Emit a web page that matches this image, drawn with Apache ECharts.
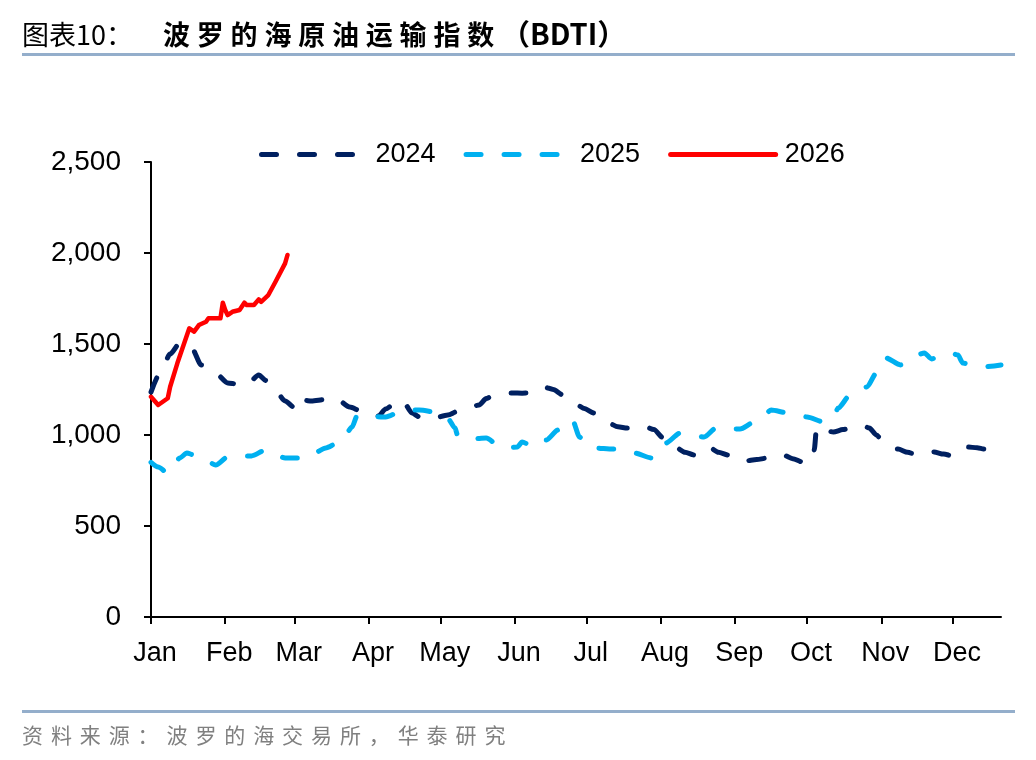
<!DOCTYPE html>
<html>
<head>
<meta charset="utf-8">
<script src="https://cdn.jsdelivr.net/npm/echarts@6/dist/echarts.min.js"></script>
<style>
  html, body { margin: 0; padding: 0; background: #fff; }
  #wrap { position: relative; width: 1036px; height: 760px; overflow: hidden; }
  #chart { position: absolute; left: 0; top: 0; width: 1036px; height: 760px; }
  #title { position: absolute; left: 22px; top: 11px; font-family: "Noto Sans CJK SC", sans-serif; font-size: 27px; color: #000; white-space: nowrap; }
  #title .n { display: inline-block; margin-right: 30px; }
  #title .b { font-weight: bold; letter-spacing: 6.8px; }
  #title .b2 { font-weight: bold; letter-spacing: 0; font-size: 29px; }
  #tline { position: absolute; left: 22px; top: 53px; width: 993px; height: 3px; background: #94AECB; }
  #fline { position: absolute; left: 22px; top: 710px; width: 993px; height: 3px; background: #94AECB; }
  #foot { position: absolute; left: 22px; top: 719px; font-family: "Noto Sans CJK SC", sans-serif; font-size: 21px; color: #808080; letter-spacing: 7.9px; white-space: nowrap; }
</style>
</head>
<body>
<div id="wrap">
  <div id="chart"></div>
  <div id="title"><span class="n">图表10：</span><span class="b">波罗的海原油运输指数</span><span class="b2">（BDTI）</span></div>
  <div id="tline"></div>
  <div id="fline"></div>
  <div id="foot">资料来源：波罗的海交易所，华泰研究</div>
</div>
<script>
// ---- data (x = day of year, y = index value) ----
const seriesNames = ['2024', '2025', '2026'];
const monthLabels = ['Jan','Feb','Mar','Apr','May','Jun','Jul','Aug','Sep','Oct','Nov','Dec'];
const monthStarts = [0, 31, 60, 91, 121, 152, 182, 213, 244, 274, 305, 335];
const yTicks = [0, 500, 1000, 1500, 2000, 2500];

const data2024 = [[0,1236],[4,1346],[8,1445],[12,1505],[15,1495],[17,1478],[21,1385],[24,1355],[27,1340],[32,1286],[36,1280],[40,1275],[45,1330],[48,1300],[51,1264],[56,1187],[60,1150],[63,1137],[64,1190],[67,1187],[73,1195],[77,1203],[83,1154],[88,1130],[93,1121],[95,1104],[98,1143],[102,1175],[105,1192],[109,1121],[112,1100],[117,1088],[124,1110],[128,1130],[132,1143],[137,1165],[140,1200],[143,1220],[151,1231],[155,1230],[158,1231],[164,1264],[168,1250],[172,1220],[178,1165],[181,1145],[185,1121],[191,1066],[195,1045],[199,1038],[206,1049],[210,1030],[214,983],[215,956],[219,934],[223,905],[227,890],[233,934],[237,905],[241,890],[248,857],[253,865],[257,873],[264,890],[268,870],[272,852],[276,857],[277,918],[278,1044],[285,1016],[289,1030],[293,1038],[297,1055],[300,1038],[303,1000],[306,956],[312,923],[316,905],[320,890],[324,905],[327,907],[331,895],[335,885],[341,934],[345,930],[348,923],[355,905]];

const data2025 = [[0,850],[3,824],[7,791],[9,820],[12,874],[15,901],[18,890],[23,860],[27,835],[32,879],[37,882],[42,885],[48,918],[52,890],[56,874],[64,874],[68,900],[73,929],[78,956],[81,1000],[84,1044],[86,1104],[89,1104],[94,1100],[98,1099],[105,1132],[108,1137],[112,1137],[121,1121],[124,1090],[127,1038],[128,1000],[132,978],[136,980],[140,983],[146,934],[149,930],[153,934],[155,961],[160,934],[162,950],[165,972],[170,1027],[173,1060],[176,1082],[179,989],[182,940],[185,929],[193,923],[198,910],[202,901],[209,874],[212,900],[215,956],[221,1011],[226,1000],[231,989],[236,1038],[241,1035],[246,1033],[252,1071],[256,1110],[259,1137],[266,1121],[270,1110],[274,1099],[281,1071],[285,1100],[287,1148],[292,1220],[295,1245],[299,1264],[303,1341],[305,1400],[307,1423],[313,1385],[316,1410],[320,1440],[323,1451],[326,1418],[330,1440],[334,1451],[337,1440],[339,1396],[343,1380],[347,1374],[355,1385]];

const data2026 = [[0,1210],[3,1165],[7,1202],[8,1265],[11,1394],[16,1586],[18,1568],[20,1604],[23,1622],[24,1641],[29,1641],[30,1727],[31,1687],[32,1659],[34,1677],[37,1687],[39,1727],[40,1714],[43,1714],[45,1745],[46,1732],[49,1769],[52,1842],[56,1943],[57,1989]];

const colors = ['#002060', '#00B0F0', '#FF0000'];

const chart = echarts.init(document.getElementById('chart'), null, { renderer: 'canvas' });
const axisFont = 'Liberation Sans, Arial, sans-serif';
const dash = [15, 23];

chart.setOption({
  animation: false,
  backgroundColor: '#fff',
  grid: { left: 151, right: 35, top: 162, bottom: 143, containLabel: false },
  legend: {
    data: seriesNames,
    left: 254,
    top: 136,
    itemWidth: 105,
    itemHeight: 14,
    itemGap: 28,
    itemStyle: { color: 'rgba(0,0,0,0)', opacity: 0, borderWidth: 0 },
    lineStyle: { width: 5, cap: 'round' },
    textStyle: { fontFamily: axisFont, fontSize: 27, color: '#000', padding: [0, 0, 0, 4] }
  },
  xAxis: {
    type: 'value',
    min: 0,
    max: 355,
    splitLine: { show: false },
    axisLine: { show: true, onZero: false, lineStyle: { color: '#000', width: 2 } },
    axisTick: { show: true, length: 7, lineStyle: { color: '#000', width: 2 }, customValues: monthStarts },
    axisLabel: {
      customValues: monthStarts,
      margin: 23,
      color: '#000',
      fontFamily: axisFont,
      fontSize: 27,
      padding: [0, 0, 0, 8],
      formatter: function (v) {
        const i = monthStarts.indexOf(Math.round(v));
        return i >= 0 ? monthLabels[i] : '';
      }
    }
  },
  yAxis: {
    type: 'value',
    min: yTicks[0],
    max: yTicks[yTicks.length - 1],
    interval: 500,
    splitLine: { show: false },
    axisLine: { show: true, lineStyle: { color: '#000', width: 2 } },
    axisTick: { show: true, length: 7, lineStyle: { color: '#000', width: 2 } },
    axisLabel: {
      margin: 30,
      color: '#000',
      fontFamily: axisFont,
      fontSize: 28,
      formatter: function (v) { return Number(v).toLocaleString('en-US'); }
    }
  },
  series: [
    {
      name: seriesNames[0], type: 'line', data: data2024, symbol: 'none', showSymbol: false,
      smooth: 0.25, smoothMonotone: 'x',
      lineStyle: { color: colors[0], width: 5, type: dash, cap: 'round', join: 'round' },
      itemStyle: { color: colors[0] }
    },
    {
      name: seriesNames[1], type: 'line', data: data2025, symbol: 'none', showSymbol: false,
      smooth: 0.25, smoothMonotone: 'x',
      lineStyle: { color: colors[1], width: 5, type: dash, cap: 'round', join: 'round' },
      itemStyle: { color: colors[1] }
    },
    {
      name: seriesNames[2], type: 'line', data: data2026, symbol: 'none', showSymbol: false,
      smooth: false,
      lineStyle: { color: colors[2], width: 4.5, type: 'solid', cap: 'round', join: 'round' },
      itemStyle: { color: colors[2] }
    }
  ]
});
</script>
</body>
</html>
